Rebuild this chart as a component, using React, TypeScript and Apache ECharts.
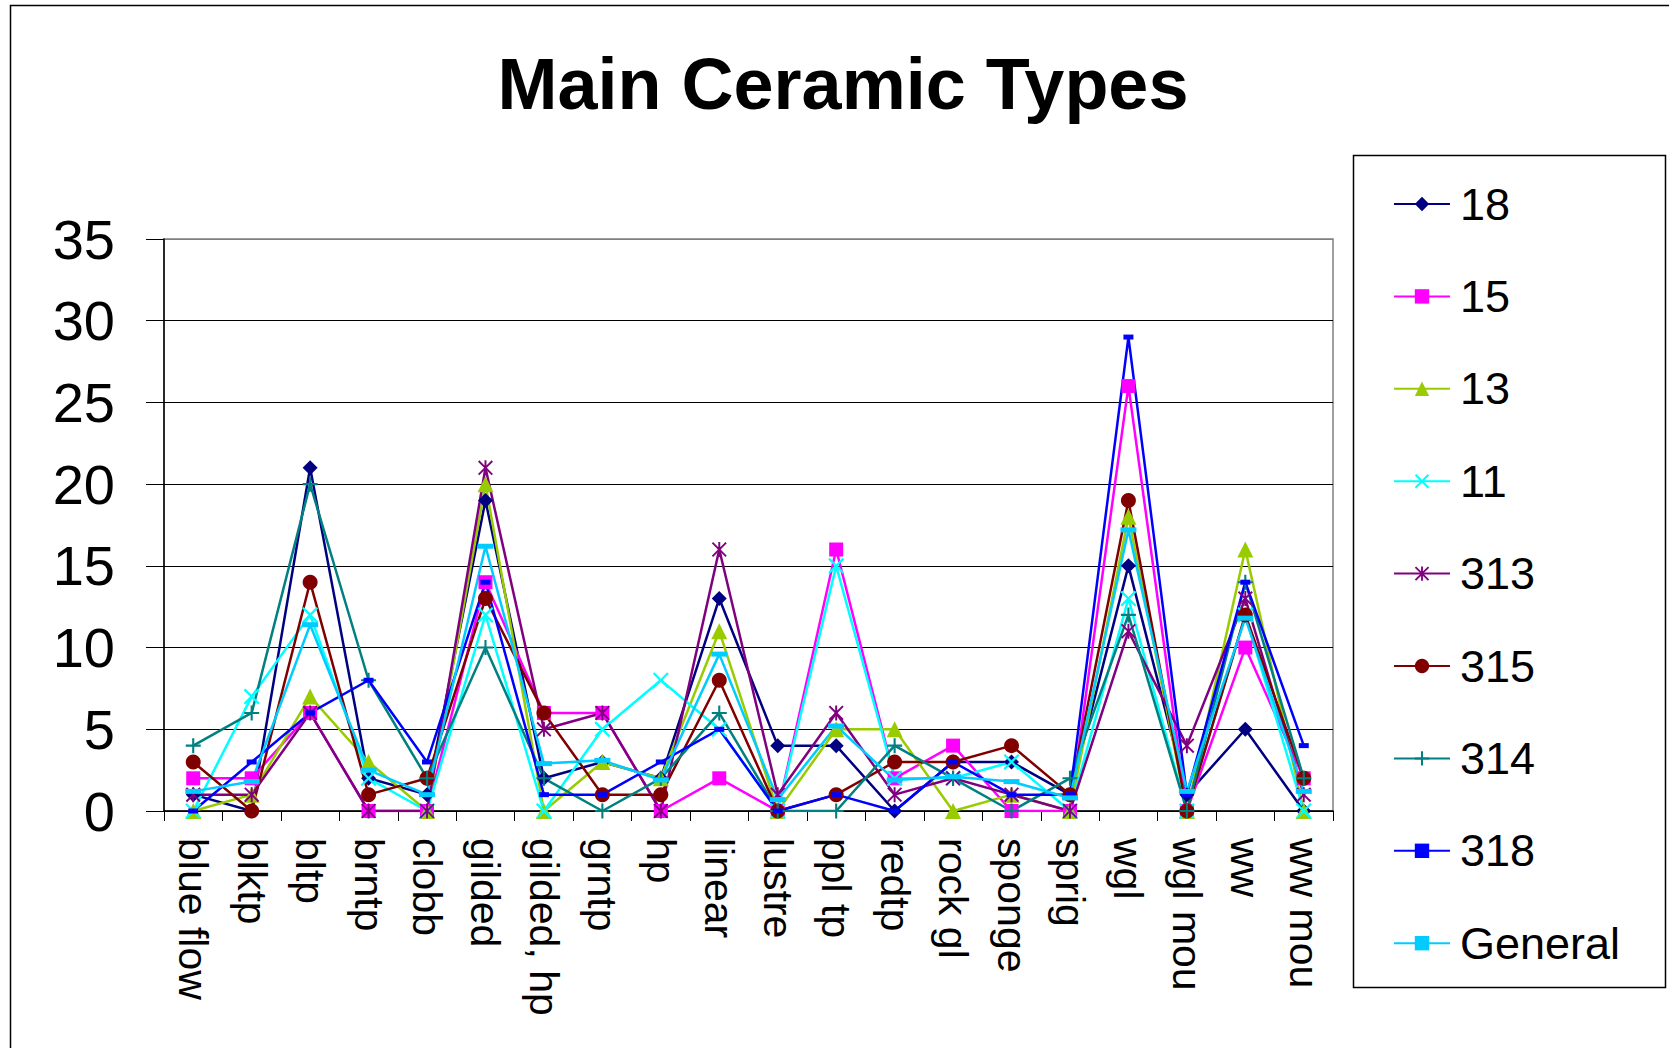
import React, { useEffect, useRef } from "react";
import * as echarts from "echarts";

const categories = [
  "blue flow", "blktp", "bltp", "brntp", "clobb", "gilded", "gilded, hp", "grntp", "hp", "linear",
  "lustre", "ppl tp", "redtp", "rock gl", "sponge", "sprig", "wgl", "wgl mou", "ww", "ww mou",
];

const yTicks = [0, 5, 10, 15, 20, 25, 30, 35];

const s18 = [1, 0, 21, 2, 1, 19, 2, 3, 2, 13, 4, 4, 0, 3, 3, 1, 15, 1, 5, 0];
const s15 = [2, 2, 6, 0, 0, 14, 6, 6, 0, 2, 0, 16, 2, 4, 0, 0, 26, 0, 10, 2];
const s13 = [0, 1, 7, 3, 0, 20, 0, 3, 2, 11, 0, 5, 5, 0, 1, 0, 18, 0, 16, 0];
const s11 = [0, 7, 12, 2, 0, 12, 0, 5, 8, 5, 0, 15, 2, 2, 3, 0, 13, 0, 12, 0];
const s313 = [1, 1, 6, 0, 0, 21, 5, 6, 0, 16, 1, 6, 1, 2, 1, 0, 11, 4, 13, 1];
const s315 = [3, 0, 14, 1, 2, 13, 6, 1, 1, 8, 0, 1, 3, 3, 4, 1, 19, 0, 12, 2];
const s314 = [4, 6, 20, 8, 2, 10, 2, 0, 2, 6, 0, 0, 4, 2, 0, 2, 12, 0, 14, 2];
const s318 = [0, 3, 6, 8, 3, 14, 1, 1, 3, 5, 0, 1, 0, 3, 1, 1, 29, 1, 14, 4];
const sGeneral = [1.2, 1.8, 11.4, 2.5, 1, 16.2, 2.9, 3.1, 1.9, 9.6, 0.7, 5.2, 1.9, 2.1, 1.8, 0.8, 17.2, 1.2, 11.8, 1.2];

const FONT = "'Liberation Sans', Arial, sans-serif";

const symX = "path://M0,1 L1,0 L5,4 L9,0 L10,1 L6,5 L10,9 L9,10 L5,6 L1,10 L0,9 L4,5 Z";
const symPlus =
  "path://M4.3,0 L5.7,0 L5.7,4.3 L10,4.3 L10,5.7 L5.7,5.7 L5.7,10 L4.3,10 L4.3,5.7 L0,5.7 L0,4.3 L4.3,4.3 Z";
const symStar =
  "path://M4.35,0 L5.65,0 L5.65,10 L4.35,10 Z M0,0.9 L0.9,0 L5,4.1 L9.1,0 L10,0.9 L5.9,5 L10,9.1 L9.1,10 L5,5.9 L0.9,10 L0,9.1 L4.1,5 Z";

const seriesDefs = [
  { name: "18", data: s18, color: "#000080", symbol: "diamond", size: 15 },
  { name: "15", data: s15, color: "#FF00FF", symbol: "rect", size: 14 },
  { name: "13", data: s13, color: "#99CC00", symbol: "triangle", size: 16 },
  { name: "11", data: s11, color: "#00FFFF", symbol: symX, size: 16 },
  { name: "313", data: s313, color: "#800080", symbol: symStar, size: 15 },
  { name: "315", data: s315, color: "#800000", symbol: "circle", size: 15 },
  { name: "314", data: s314, color: "#008080", symbol: symPlus, size: 15 },
  { name: "318", data: s318, color: "#0000FF", symbol: "rect", size: [10, 5] },
  { name: "General", data: sGeneral, color: "#00CCFF", symbol: "rect", size: [16, 5] },
];

export default function App() {
  const ref = useRef<HTMLDivElement>(null);

  useEffect(() => {
    if (!ref.current) return;
    const chart = echarts.init(ref.current, null, { renderer: "svg" });

    const splitColors = yTicks.map((v, i) => (i === yTicks.length - 1 ? "#808080" : "#000000"));

    chart.setOption({
      animation: false,
      backgroundColor: "#ffffff",
      graphic: [
        {
          type: "rect",
          z: 0,
          shape: { x: 10.5, y: 5.5, width: 1700, height: 1100 },
          style: { fill: "none", stroke: "#000", lineWidth: 1.5 },
          silent: true,
        },
        {
          type: "rect",
          z: 0,
          shape: { x: 1353.5, y: 155.5, width: 312, height: 832 },
          style: { fill: "none", stroke: "#000", lineWidth: 1.5 },
          silent: true,
        },
        {
          type: "text",
          x: 843,
          y: 84,
          style: {
            text: "Main Ceramic Types",
            fontSize: 72,
            fontWeight: "bold",
            fontFamily: FONT,
            fill: "#000",
            textAlign: "center",
            textVerticalAlign: "middle",
          },
        },
      ],
      grid: {
        left: 164,
        top: 239,
        width: 1169,
        height: 572,
        show: true,
        borderColor: "#808080",
        borderWidth: 1.5,
        containLabel: false,
      },
      legend: {
        orient: "vertical",
        left: 1388,
        top: 174,
        itemWidth: 56,
        itemHeight: 18,
        itemGap: 42.4,
        data: seriesDefs.map((s) => s.name),
        textStyle: {
          fontSize: 45,
          fontFamily: FONT,
          color: "#000",
          lineHeight: 50,
          padding: [0, 0, 0, 5],
        },
      },
      xAxis: {
        type: "category",
        data: categories,
        boundaryGap: true,
        axisLine: { show: true, lineStyle: { color: "#000", width: 1.5 } },
        axisTick: { show: true, length: 10, interval: 0, lineStyle: { color: "#000" } },
        axisLabel: {
          interval: 0,
          rotate: -90,
          fontSize: 41,
          fontFamily: FONT,
          color: "#000",
          margin: 27,
        },
        splitLine: { show: false },
      },
      yAxis: {
        type: "value",
        min: yTicks[0],
        max: yTicks[yTicks.length - 1],
        interval: 5,
        axisLine: { show: true, lineStyle: { color: "#000", width: 1.5 } },
        axisTick: { show: true, length: 18, lineStyle: { color: "#000" } },
        axisLabel: { fontSize: 56, fontFamily: FONT, color: "#000", margin: 49 },
        splitLine: { show: true, lineStyle: { color: splitColors, width: 1 } },
      },
      series: seriesDefs.map((s) => ({
        name: s.name,
        type: "line",
        data: s.data,
        symbol: s.symbol,
        symbolSize: s.size,
        showSymbol: true,
        showAllSymbol: true,
        color: s.color,
        lineStyle: { color: s.color, width: 2.5 },
        itemStyle: { color: s.color, borderWidth: 0 },
        emphasis: { disabled: true },
      })),
    });

    return () => chart.dispose();
  }, []);

  return (
    <div
      ref={ref}
      style={{ position: "absolute", left: 0, top: 0, width: 1669, height: 1048, background: "#fff" }}
    />
  );
}
